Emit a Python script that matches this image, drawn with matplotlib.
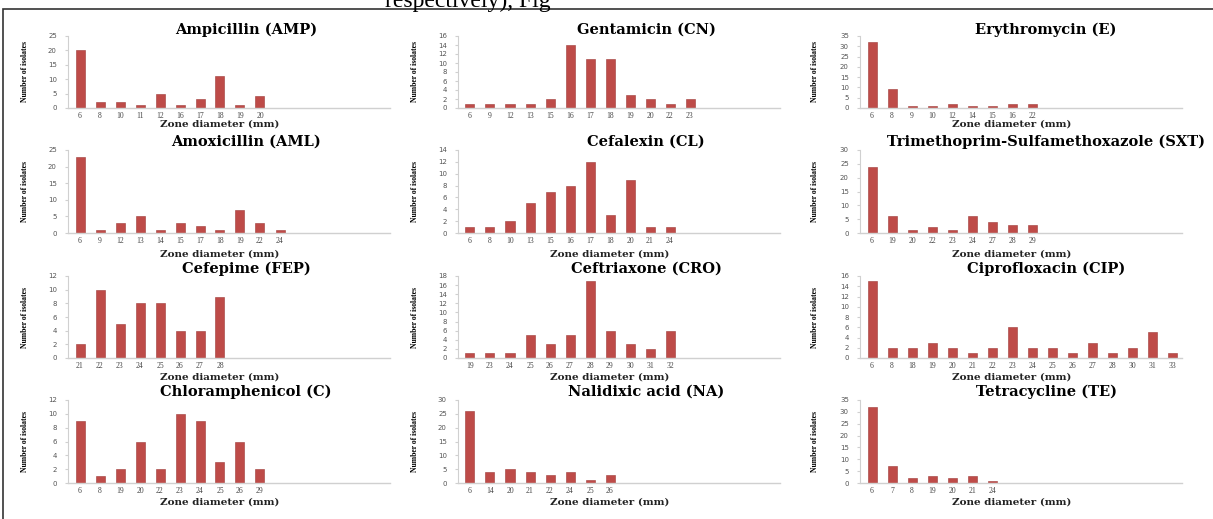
import numpy as np
import matplotlib.pyplot as plt
from matplotlib.patches import Rectangle

# ============================================================
# data: zone diameter (mm) -> number of isolates
# ============================================================

amp_zone  = ['6', '8', '10', '11', '12', '16', '17', '18', '19', '20']
amp_count = [20, 2, 2, 1, 5, 1, 3, 11, 1, 4]

cn_zone  = ['6', '9', '12', '13', '15', '16', '17', '18', '19', '20', '22', '23']
cn_count = [1, 1, 1, 1, 2, 14, 11, 11, 3, 2, 1, 2]

e_zone  = ['6', '8', '9', '10', '12', '14', '15', '16', '22']
e_count = [32, 9, 1, 1, 2, 1, 1, 2, 2]

aml_zone  = ['6', '9', '12', '13', '14', '15', '17', '18', '19', '22', '24']
aml_count = [23, 1, 3, 5, 1, 3, 2, 1, 7, 3, 1]

cl_zone  = ['6', '8', '10', '13', '15', '16', '17', '18', '20', '21', '24']
cl_count = [1, 1, 2, 5, 7, 8, 12, 3, 9, 1, 1]

sxt_zone  = ['6', '19', '20', '22', '23', '24', '27', '28', '29']
sxt_count = [24, 6, 1, 2, 1, 6, 4, 3, 3]

fep_zone  = ['21', '22', '23', '24', '25', '26', '27', '28']
fep_count = [2, 10, 5, 8, 8, 4, 4, 9]

cro_zone  = ['19', '23', '24', '25', '26', '27', '28', '29', '30', '31', '32']
cro_count = [1, 1, 1, 5, 3, 5, 17, 6, 3, 2, 6]

cip_zone  = ['6', '8', '18', '19', '20', '21', '22', '23', '24', '25', '26',
             '27', '28', '30', '31', '33']
cip_count = [15, 2, 2, 3, 2, 1, 2, 6, 2, 2, 1, 3, 1, 2, 5, 1]

c_zone  = ['6', '8', '19', '20', '22', '23', '24', '25', '26', '29']
c_count = [9, 1, 2, 6, 2, 10, 9, 3, 6, 2]

na_zone  = ['6', '14', '20', '21', '22', '24', '25', '26']
na_count = [26, 4, 5, 4, 3, 4, 1, 3]

te_zone  = ['6', '7', '8', '19', '20', '21', '24']
te_count = [32, 7, 2, 3, 2, 3, 1]

# (title, zones, counts, y max, y step, show xlabel)
PANELS = [
    ('Ampicillin (AMP)', amp_zone, amp_count, 25, 5, True),
    ('Gentamicin (CN)', cn_zone, cn_count, 16, 2, False),
    ('Erythromycin (E)', e_zone, e_count, 35, 5, True),
    ('Amoxicillin (AML)', aml_zone, aml_count, 25, 5, True),
    ('Cefalexin (CL)', cl_zone, cl_count, 14, 2, True),
    ('Trimethoprim-Sulfamethoxazole (SXT)', sxt_zone, sxt_count, 30, 5, True),
    ('Cefepime (FEP)', fep_zone, fep_count, 12, 2, True),
    ('Ceftriaxone (CRO)', cro_zone, cro_count, 18, 2, True),
    ('Ciprofloxacin (CIP)', cip_zone, cip_count, 16, 2, True),
    ('Chloramphenicol (C)', c_zone, c_count, 12, 2, True),
    ('Nalidixic acid (NA)', na_zone, na_count, 30, 5, True),
    ('Tetracycline (TE)', te_zone, te_count, 35, 5, True),
]

# ============================================================
# layout (pixels of the 1213 x 519 canvas)
# ============================================================

W, H = 1213, 519
COL_LEFT  = [68, 458, 860]
COL_W     = 322
ROW_TOP   = [36, 150, 276, 400]
ROW_BOT   = [108, 233, 358, 483]
TITLE_Y   = [30, 142, 269, 392]
XLAB_Y    = [124, 254, 377, 502]
TITLE_DX  = [246, 646, 1046]
YLAB_X    = [25, 415, 815]

BAR_COLOR = '#BE4B48'
AXIS_GRAY = '#d0d0d0'
SERIF = ['DejaVu Serif']

fig = plt.figure(figsize=(W / 100, H / 100), dpi=100)

for k, (title, zones, counts, ymax, ystep, show_xl) in enumerate(PANELS):
    r, c = divmod(k, 3)
    left   = COL_LEFT[c] / W
    bottom = 1 - ROW_BOT[r] / H
    height = (ROW_BOT[r] - ROW_TOP[r]) / H
    ax = fig.add_axes([left, bottom, COL_W / W, height])

    x = np.arange(len(zones))
    ax.bar(x, counts, width=0.45, color=BAR_COLOR, edgecolor='#9e3a38', linewidth=0.4)

    ax.set_xlim(-0.6, 15.5)
    ax.set_ylim(0, ymax)
    ax.set_yticks(np.arange(0, ymax + 0.1, ystep))
    ax.set_xticks(x)
    ax.set_xticklabels(zones, fontsize=5.5, family='Liberation Serif', color='#444444')
    ax.tick_params(axis='y', labelsize=5, labelcolor='#555555', length=2, color=AXIS_GRAY, pad=6)
    ax.tick_params(axis='x', length=0, pad=3)

    for s in ['top', 'right']:
        ax.spines[s].set_visible(False)
    ax.spines['left'].set_color(AXIS_GRAY)
    ax.spines['bottom'].set_color(AXIS_GRAY)
    ax.spines['left'].set_linewidth(0.8)
    ax.spines['bottom'].set_linewidth(1.0)

    fig.text(TITLE_DX[c] / W, 1 - TITLE_Y[r] / H, title,
             ha='center', va='center', fontsize=10.5, fontweight='bold', family=SERIF)
    if show_xl:
        fig.text((COL_LEFT[c] + COL_W * 0.47) / W, 1 - XLAB_Y[r] / H, 'Zone diameter (mm)',
                 ha='center', va='center', fontsize=7.5, fontweight='bold',
                 family=SERIF, color='#222222')
    fig.text(YLAB_X[c] / W, 1 - (ROW_TOP[r] + ROW_BOT[r]) / 2 / H, 'Number of isolates',
             ha='center', va='center', rotation=90, fontsize=5.5, fontweight='bold',
             family='Liberation Serif')

# cut-off caption line above the figure box
fig.text(385 / W, 1 - 7 / H, 'respectively), Fig',
         ha='left', va='baseline', fontsize=17, family='Liberation Serif')

# outer frame
fig.patches.append(Rectangle((3 / W, -0.02), 1.02, 1 - 9 / H + 0.02,
                             transform=fig.transFigure, fill=False,
                             edgecolor='#333333', linewidth=1.2))

fig.savefig('out.png', dpi=100)
